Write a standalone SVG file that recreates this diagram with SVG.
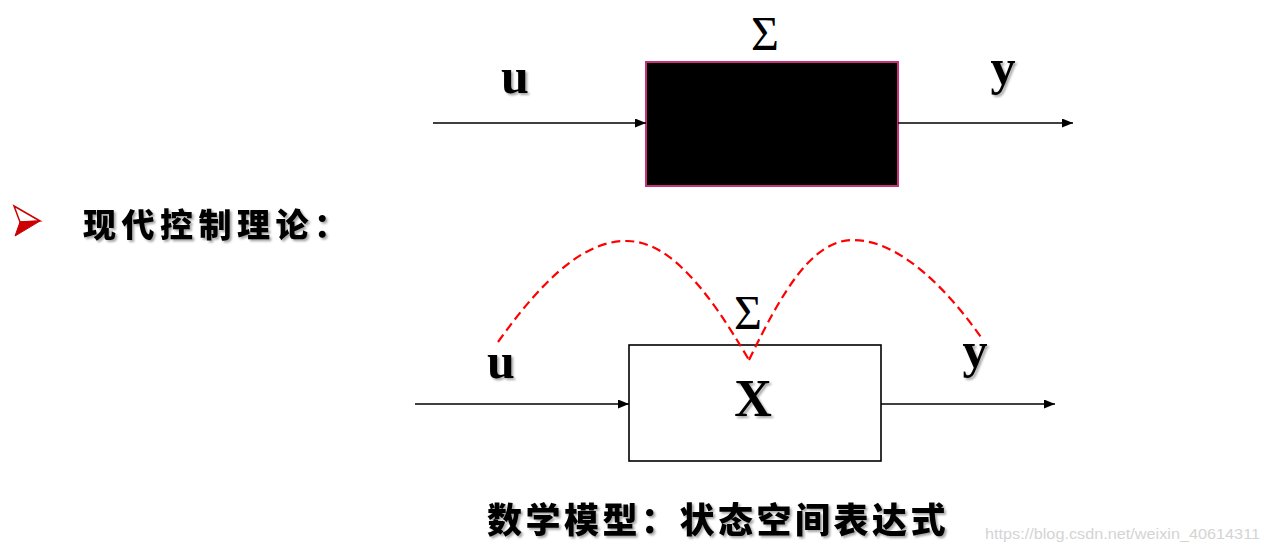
<svg xmlns="http://www.w3.org/2000/svg" width="1267" height="552" viewBox="0 0 1267 552">
<defs>
<marker id="ah" markerWidth="11" markerHeight="9" refX="11" refY="4.5" orient="auto" markerUnits="userSpaceOnUse">
<path d="M0,0 L11,4.5 L0,9 Z" fill="#000"/>
</marker>
<filter id="sh" x="-20%" y="-20%" width="150%" height="150%">
<feDropShadow dx="2" dy="2" stdDeviation="1.2" flood-color="#000" flood-opacity="0.35"/>
</filter>
</defs>
<style>
.ser{font-family:"Liberation Serif","Times New Roman",serif;fill:#000}
.bold{font-weight:bold}
.cjk{font-family:"Noto Sans CJK SC","Noto Sans CJK JP",sans-serif;font-weight:900;fill:#000}
.ln{stroke:#000;stroke-width:1.6;fill:none}
.dash{stroke:#ff0000;stroke-width:2.2;fill:none;stroke-dasharray:9 5}
</style>
<rect width="1267" height="552" fill="#fff"/>

<g id="top-system">
<rect x="646" y="62" width="252" height="124" fill="#000" stroke="#c8327a" stroke-width="2"/>
<text class="ser" x="765" y="50" font-size="48" text-anchor="middle">Σ</text>
</g>
<g id="top-u"><text class="ser bold" x="515" y="93" font-size="50" text-anchor="middle" filter="url(#sh)">u</text></g>
<g id="top-y"><text class="ser bold" x="1003" y="84" font-size="50" text-anchor="middle" filter="url(#sh)">y</text></g>

<g id="bullet">
<polygon points="14,206 40,221 20,222" fill="#fff" stroke="#cc0000" stroke-width="1.5"/>
<polygon points="20,222 40,221 15,236" fill="#cc0000" stroke="#cc0000" stroke-width="1"/>
</g>
<g id="heading"><text class="cjk" x="83" y="237" font-size="33" letter-spacing="5.5" filter="url(#sh)">现代控制理论：</text></g>

<g id="bottom-system">
<rect x="629" y="345" width="252" height="116" fill="#fff" stroke="#000" stroke-width="1.6"/>
<text class="ser" x="748" y="329" font-size="48" text-anchor="middle">Σ</text>
<text class="ser bold" x="753" y="416" font-size="52" text-anchor="middle" filter="url(#sh)">X</text>
</g>
<g id="bottom-u"><text class="ser bold" x="501" y="378" font-size="50" text-anchor="middle" filter="url(#sh)">u</text></g>
<g id="bottom-y"><text class="ser bold" x="975" y="367" font-size="50" text-anchor="middle" filter="url(#sh)">y</text></g>

<g id="caption"><text class="cjk" x="487" y="533" font-size="35" letter-spacing="3.5" filter="url(#sh)">数学模型：状态空间表达式</text></g>
<g id="watermark"><text x="985" y="539" font-family="Liberation Sans, Arial, sans-serif" font-size="15" fill="#d4d4d4" textLength="275" lengthAdjust="spacingAndGlyphs">https://blog.csdn.net/weixin_40614311</text></g>

<g id="connectors">
<line class="ln" x1="433" y1="123" x2="646" y2="123" marker-end="url(#ah)"/>
<line class="ln" x1="898" y1="123" x2="1073" y2="123" marker-end="url(#ah)"/>
<line class="ln" x1="415" y1="404" x2="629" y2="404" marker-end="url(#ah)"/>
<line class="ln" x1="881" y1="404" x2="1055" y2="404" marker-end="url(#ah)"/>
<path class="dash" d="M498,342 C548,272 588,240 628,241 C670,242 708,290 749,360"/>
<path class="dash" d="M749,360 C782,292 812,240 853,240 C900,240 948,290 983,340"/>
</g>
</svg>
